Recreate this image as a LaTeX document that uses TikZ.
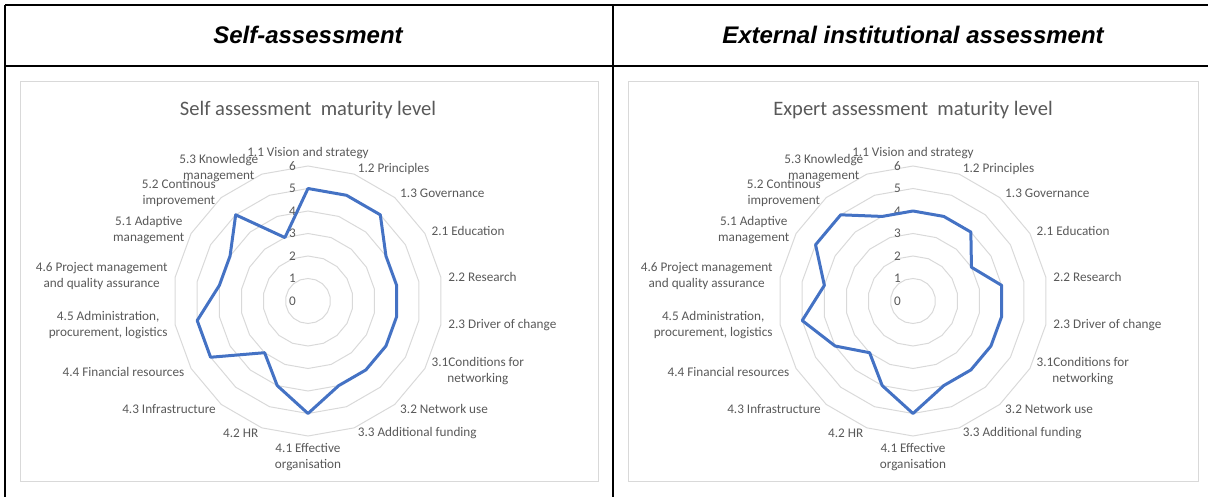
\documentclass[tikz,border=0pt]{standalone}
\usepackage{fontspec}
\setmainfont{Carlito}
\newfontfamily\headfont{Liberation Sans}
\definecolor{axisgray}{HTML}{595959}
\definecolor{gridgray}{HTML}{D9D9D9}
\definecolor{seriesblue}{HTML}{4472C4}
\tikzset{
  tableline/.style={line width=1.5pt, draw=black},
  chartbox/.style={draw=gridgray, line width=0.75pt},
  gridline/.style={draw=gridgray, line width=0.75pt},
  series/.style={draw=seriesblue, line width=2.25pt, line join=round},
  axislabel/.style={text=axisgray, font=\fontsize{9.9}{12}\selectfont, align=center, inner sep=1pt},
  ticklabel/.style={text=axisgray, font=\fontsize{9.9}{12}\selectfont, inner sep=0pt, anchor=east},
  charttitle/.style={text=axisgray, font=\fontsize{15.4}{18}\selectfont},
  headtext/.style={font=\headfont\bfseries\itshape\fontsize{18}{22}\selectfont}
}
\newcommand{\radarlabels}{0/{1.1 Vision and strategy}/south,
  1/{1.2 Principles}/west, 2/{1.3 Governance}/west, 3/{2.1 Education}/west,
  4/{2.2 Research}/west, 5/{2.3 Driver of change}/west,
  6/{3.1Conditions for\\networking}/west, 7/{3.2 Network use}/west,
  8/{3.3 Additional funding}/west, 9/{4.1 Effective\\organisation}/north,
  10/{4.2 HR}/east, 11/{4.3 Infrastructure}/east, 12/{4.4 Financial resources}/east,
  13/{4.5 Administration,\\procurement, logistics}/east,
  14/{4.6 Project management\\and quality assurance}/east,
  15/{5.1 Adaptive\\management}/east, 16/{5.2 Continous\\improvement}/east,
  17/{5.3 Knowledge\\management}/east}
\begin{document}
\begin{tikzpicture}[x=0.75pt, y=0.75pt]
  \useasboundingbox (0,0) rectangle (1208,497);

  % Table frame and headers
  \draw[tableline] (5,492) -- (1208,492);
  \draw[tableline] (5,431) -- (1208,431);
  \draw[tableline] (5,492) -- (5,0);
  \draw[tableline] (613,492) -- (613,0);
  \node[headtext] (h1) at (308,462) {Self-assessment};
  \node[headtext] (h2) at (913,462) {External institutional assessment};

  % First chart - self assessment
  \begin{scope}[shift={(308,196)}]
    \draw[chartbox] (-288,-180) rectangle (290,219);
    \node[charttitle] (ta) at (0,191) {Self assessment\ \ maturity level};
    \foreach \r in {1,...,6}
      \draw[gridline] (90:22.5*\r) \foreach \k in {1,...,17}{ -- (90-20*\k:22.5*\r)} -- cycle;
    \foreach \r in {0,...,6}
      \node[ticklabel] (va\r) at (-12,22.5*\r) {\r};
    \foreach \v [count=\k from 0] in {5,5,5,4,4,4,4,4,4,5,4,3,5,5,4,4,5,3}
      \coordinate (pa\k) at (90-20*\k:22.5*\v);
    \draw[series] (pa0) \foreach \k in {1,...,17}{ -- (pa\k)} -- cycle;
    \foreach \k/\txt/\anc in \radarlabels
      \node[axislabel, anchor=\anc] (a\k) at (90-20*\k:141) {\txt};
  \end{scope}

  % Second chart - expert assessment
  \begin{scope}[shift={(913,196)}]
    \draw[chartbox] (-285,-180) rectangle (285,219);
    \node[charttitle] (tb) at (0,191) {Expert assessment\ \ maturity level};
    \foreach \r in {1,...,6}
      \draw[gridline] (90:22.5*\r) \foreach \k in {1,...,17}{ -- (90-20*\k:22.5*\r)} -- cycle;
    \foreach \r in {0,...,6}
      \node[ticklabel] (vb\r) at (-12,22.5*\r) {\r};
    \foreach \v [count=\k from 0] in {4,4,4,3,4,4,4,4,4,5,4,3,4,5,4,5,5,4}
      \coordinate (pb\k) at (90-20*\k:22.5*\v);
    \draw[series] (pb0) \foreach \k in {1,...,17}{ -- (pb\k)} -- cycle;
    \foreach \k/\txt/\anc in \radarlabels
      \node[axislabel, anchor=\anc] (b\k) at (90-20*\k:141) {\txt};
  \end{scope}
\end{tikzpicture}
\end{document}
